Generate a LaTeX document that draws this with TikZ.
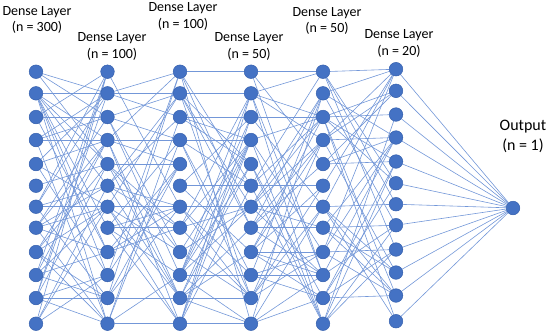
\documentclass[tikz,border=0pt]{standalone}
\usepackage{fontspec}
\setmainfont{Carlito}
\pgfdeclarelayer{bg}
\pgfsetlayers{bg,main}
\definecolor{nodefill}{HTML}{4472C4}
\definecolor{nodeedge}{HTML}{3560AE}
\definecolor{wirecol}{HTML}{7397D8}
\begin{document}
\begin{tikzpicture}[x=1pt,y=-1pt,
  neuron/.style={circle,fill=nodefill,draw=nodeedge,line width=0.5pt,minimum size=13.6pt,inner sep=0pt},
  wire/.style={draw=wirecol,line width=0.6pt},
  lbl/.style={align=center,font=\fontsize{14}{16.6}\selectfont,inner sep=0pt},
  outlbl/.style={align=center,font=\fontsize{16}{20}\selectfont,inner sep=0pt}]
\useasboundingbox (0,0) rectangle (550,333);
\foreach \c/\x/\dy in {1/36/0,2/107.5/0,3/180/0,4/251/0,5/323/0,6/396/-2.5} {
  \foreach \y [count=\i] in {71.7,93.3,117,140,164,185.7,206.7,227.7,252,275,298,323.7} {
    \node[neuron] (n\c-\i) at (\x,{\y+(\dy)}) {};
  }
}
\node[neuron] (out) at (513,208) {};
\begin{pgfonlayer}{bg}
\pgfmathsetseed{7}
\foreach \c in {1,...,5} {
  \pgfmathtruncatemacro\nxt{\c+1}
  \foreach \i in {1,...,12} {
    \foreach \j in {1,...,12} {
      \pgfmathsetmacro\r{rnd}
      \ifnum\i=\j \pgfmathsetmacro\r{\r-0.3}\fi
      \ifdim\r pt<0.3pt \draw[wire] (n\c-\i) -- (n\nxt-\j);\fi
    }
  }
}
\foreach \i in {1,...,12} \draw[wire] (n6-\i) -- (out);
\end{pgfonlayer}
\node[lbl] (l1) at (37,20) {Dense Layer\\(n = 300)};
\node[lbl] (l2) at (112,46.7) {Dense Layer\\(n = 100)};
\node[lbl] (l3) at (183,16.7) {Dense Layer\\(n = 100)};
\node[lbl] (l4) at (249,46.7) {Dense Layer\\(n = 50)};
\node[lbl] (l5) at (327,20.8) {Dense Layer\\(n = 50)};
\node[lbl] (l6) at (399,43.7) {Dense Layer\\(n = 20)};
\node[outlbl] (lo) at (523,136.7) {Output\\(n = 1)};
\end{tikzpicture}
\end{document}
